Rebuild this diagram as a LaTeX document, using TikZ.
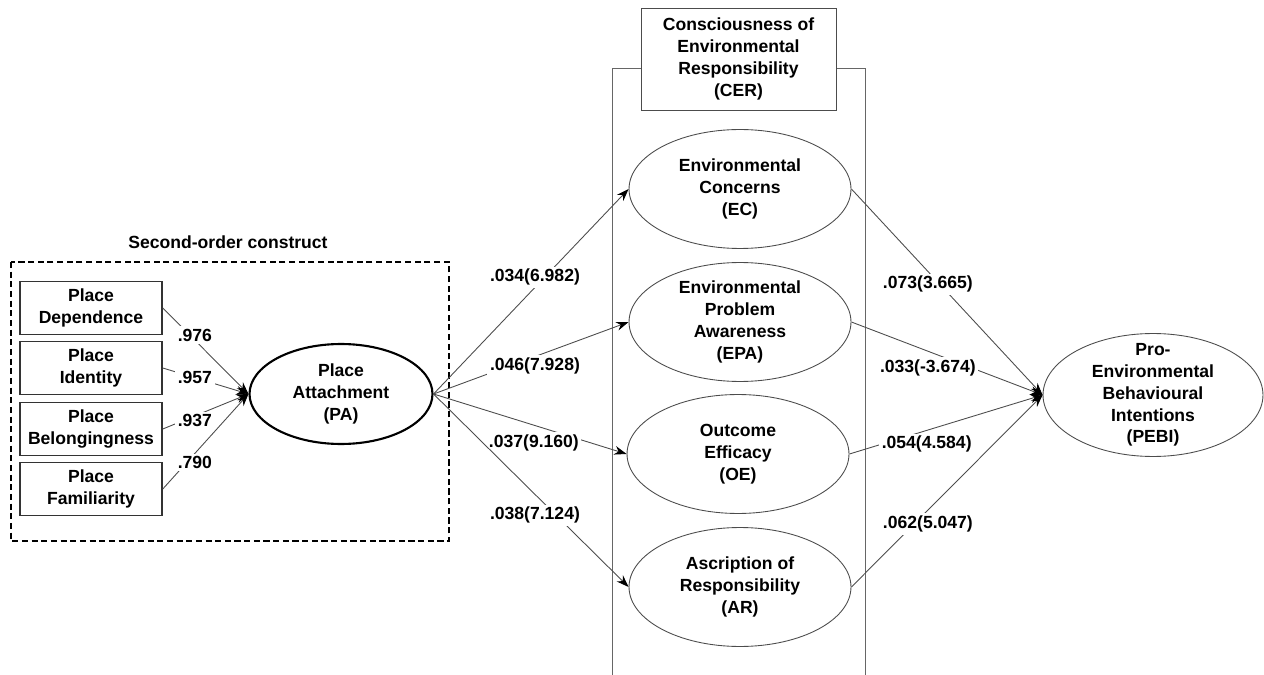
\documentclass[tikz,border=0pt]{standalone}
\usepackage{fontspec}
\setmainfont{Liberation Sans}
\usetikzlibrary{shapes.geometric, arrows, arrows.meta, positioning}

\begin{document}
\begin{tikzpicture}[
    x=0.02cm, y=-0.02cm,
    font=\bfseries\fontsize{10}{12.4}\selectfont,
    indicator/.style={rectangle, draw=black!80, line width=0.9pt, minimum width=2.84cm, minimum height=1.06cm, inner sep=1pt, align=center},
    latent/.style={ellipse, draw=black!70, line width=0.5pt, inner sep=0pt, inner ysep=-1pt, minimum width=4.44cm, minimum height=2.38cm, align=center},
    weight/.style={fill=white, inner sep=1.5pt},
    arrow/.style={-{Stealth[length=7pt, width=5pt, color=black]}, draw=black!70, line width=0.5pt},
    link/.style={draw=black!60, line width=0.5pt}
]
    \useasboundingbox (0,0) rectangle (1264,675);

    % second-order construct
    \draw[dash pattern=on 3.5pt off 2pt, line width=0.8pt] (11,262) rectangle (449,541);
    \node (soc) at (228,242) {Second-order construct};
    \node[indicator] (pd) at (91,308) {Place\\Dependence};
    \node[indicator] (pi) at (91,368) {Place\\Identity};
    \node[indicator] (pb) at (91,429) {Place\\Belongingness};
    \node[indicator] (pf) at (91,489) {Place\\Familiarity};
    \node[latent, draw=black, line width=1.2pt, minimum width=3.66cm, minimum height=2cm] (pa) at (341,394) {Place\\Attachment\\(PA)};

    % CER frame
    \draw[link] (612,675) -- (612,68) -- (865,68) -- (865,675);
    \node[rectangle, draw=black!70, fill=white, minimum width=3.9cm, minimum height=2.04cm, align=center] (cer) at (738.5,59) {Consciousness of\\Environmental\\Responsibility\\(CER)};
    \node[latent] (ec) at (740,189) {Environmental\\Concerns\\(EC)};
    \node[latent] (epa) at (740,322) {Environmental\\Problem\\Awareness\\(EPA)};
    \node[latent] (oe) at (738,454) {Outcome\\Efficacy\\(OE)};
    \node[latent] (ar) at (740,587) {Ascription of\\Responsibility\\(AR)};
    \node[latent, minimum width=4.4cm, minimum height=2.46cm, inner ysep=-6pt] (pebi) at (1153,395) {Pro-\\Environmental\\Behavioural\\Intentions\\(PEBI)};

    % loadings
    \draw[arrow] (pd.east) -- node[weight, pos=.375, yshift=0.1cm] {.976} (pa.west);
    \draw[arrow] (pi.east) -- node[weight, pos=.375] {.957} (pa.west);
    \draw[arrow] (pb.east) -- node[weight, pos=.375, yshift=-0.1cm] {.937} (pa.west);
    \draw[arrow] (pf.east) -- node[weight, pos=.375, yshift=-0.18cm] {.790} (pa.west);

    % paths
    \draw[arrow] (pa.east) -- node[weight, pos=.52, yshift=0.2cm] {.034(6.982)} (ec.west);
    \draw[arrow] (pa.east) -- node[weight, pos=.52, yshift=-0.18cm] {.046(7.928)} (epa.west);
    \draw[arrow] (pa.east) -- node[weight, pos=.52, yshift=-0.35cm] {.037(9.160)} (oe.west);
    \draw[arrow] (pa.east) -- node[weight, pos=.52, yshift=-0.42cm] {.038(7.124)} (ar.west);

    \draw[arrow] (ec.east) -- node[weight, pos=.4, yshift=-0.26cm] {.073(3.665)} (pebi.west);
    \draw[arrow] (epa.east) -- node[weight, pos=.4, yshift=-0.34cm] {.033(-3.674)} (pebi.west);
    \draw[arrow] (oe.east) -- node[weight, pos=.4, yshift=-0.28cm] {.054(4.584)} (pebi.west);
    \draw[arrow] (ar.east) -- node[weight, pos=.4, yshift=-0.28cm] {.062(5.047)} (pebi.west);
\end{tikzpicture}
\end{document}
